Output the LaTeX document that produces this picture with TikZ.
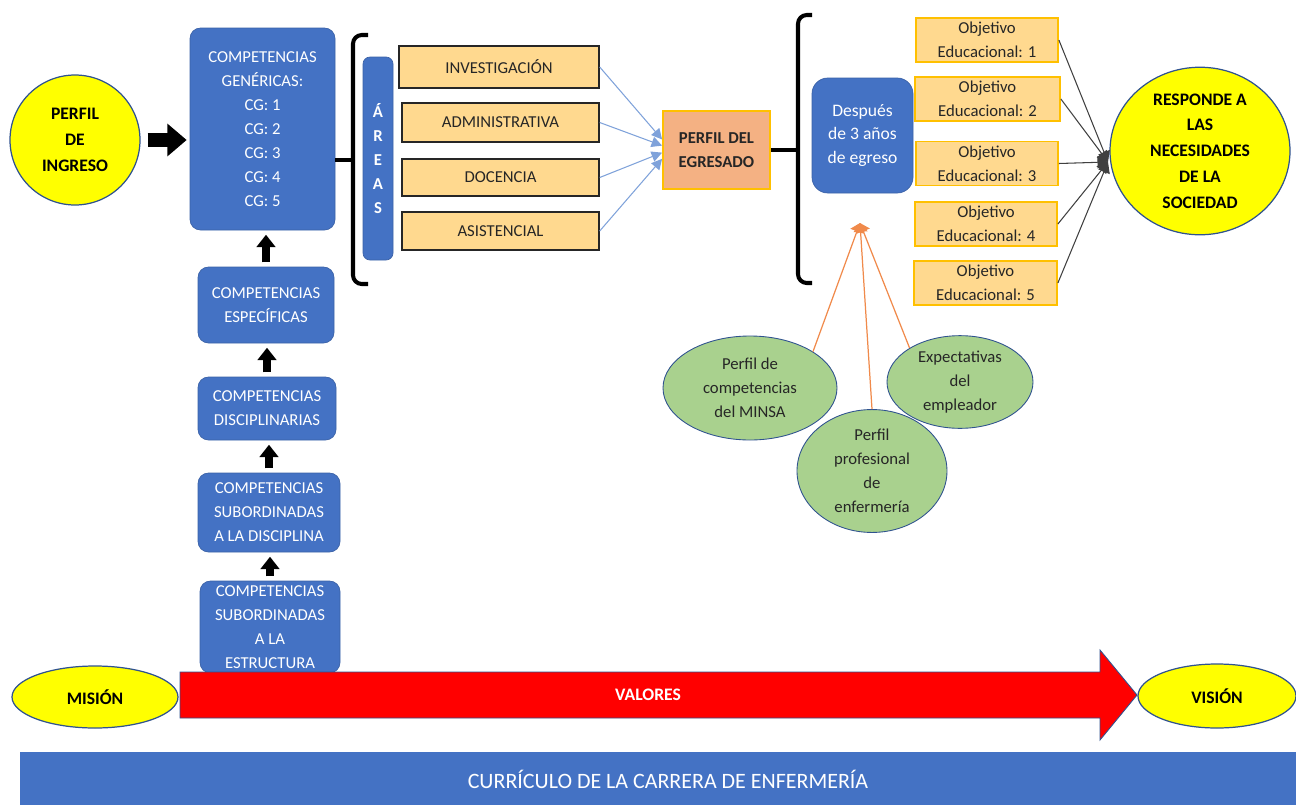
\documentclass[tikz,border=0pt]{standalone}
\usepackage{fontspec}
\setmainfont{Carlito}
\usetikzlibrary{shapes.geometric,arrows.meta}
\definecolor{ppblue}{HTML}{4472C4}
\definecolor{ppedge}{HTML}{2F528F}
\definecolor{ppyellow}{HTML}{FFFF00}
\definecolor{pplight}{HTML}{FFD98F}
\definecolor{ppgold}{HTML}{FFC000}
\definecolor{ppsalmon}{HTML}{F4B183}
\definecolor{ppgreen}{HTML}{A9D18E}
\definecolor{pplink}{HTML}{7FA2DA}
\definecolor{ppline}{HTML}{F08A4B}
\definecolor{pptext}{HTML}{262626}
\newdimen\px \px=0.02cm
\tikzset{
  txt/.style={font=\fontsize{9.5}{13.6}\selectfont, align=center, inner sep=1pt},
  comp box/.style={txt, fill=ppblue, draw=ppblue!85!black, rounded corners=6pt, text=white},
  area box/.style={txt, fill=pplight, draw=pptext, line width=0.8pt, text=pptext},
  obj box/.style={txt, fill=pplight, draw=ppgold, line width=1pt, text=pptext},
  sun/.style={txt, ellipse, fill=ppyellow, draw=ppedge, line width=0.7pt, font=\fontsize{10}{14.7}\selectfont\bfseries},
  leaf/.style={txt, ellipse, fill=ppgreen, draw=ppedge, line width=0.5pt, text=pptext},
  brace/.style={line width=2.3pt, rounded corners=5pt},
  big arrow/.style={line width=8pt, -{Triangle[length=11pt,width=18pt]}},
  up arrow/.style={line width=4.5pt, -{Triangle[length=7pt,width=10.5pt]}, shorten <=2.5pt, shorten >=2.5pt},
  blue link/.style={pplink, line width=0.6pt, -{Triangle[length=6pt,width=6pt]}},
  black link/.style={black!75, line width=0.6pt, -{Triangle[length=6pt,width=7pt]}},
  orange link/.style={ppline, line width=0.7pt, -{Triangle[length=5pt,width=8pt]}}
}
\newcommand{\compbox}[6]{\node[comp box, minimum width=#4\px, minimum height=#5\px] (#1) at (#2,#3) {#6};}
\newcommand{\areabox}[6]{\node[area box, minimum width=#4\px, minimum height=#5\px] (#1) at (#2,#3) {#6};}
\newcommand{\objbox}[4]{\node[obj box, minimum width=#3\px, minimum height=44\px] (#1) at (#2) {Objetivo\\Educacional: #4};}
\newcommand{\uparr}[2]{\draw[up arrow] (#1.north) -- (#1.north |- #2.south);}

\begin{document}
\begin{tikzpicture}[x=0.02cm, y=-0.02cm]
    \useasboundingbox (0,0) rectangle (1296,805);

    % izquierda
    \node[sun, circle, minimum size=130\px] (ingreso) at (75,140) {PERFIL\\DE\\INGRESO};
    \compbox{CG}{262.5}{129}{145}{202}{COMPETENCIAS\\GENÉRICAS:\\CG: 1\\CG: 2\\CG: 3\\CG: 4\\CG: 5}
    \draw[big arrow, shorten <=4pt, shorten >=1.7pt] (ingreso.east) -- (ingreso.east -| CG.west);

    \compbox{esp}{266}{305}{136}{76}{COMPETENCIAS\\ESPECÍFICAS}
    \compbox{disc}{267}{408.5}{138}{63}{COMPETENCIAS\\DISCIPLINARIAS}
    \compbox{subdisc}{269}{512.5}{142}{79}{COMPETENCIAS\\SUBORDINADAS\\A LA DISCIPLINA}
    \compbox{subest}{270}{627}{140}{92}{COMPETENCIAS\\SUBORDINADAS\\A LA\\ESTRUCTURA}
    \uparr{esp}{CG} \uparr{disc}{esp}
    \uparr{subdisc}{disc} \uparr{subest}{subdisc}

    % areas
    \coordinate (b1) at (353,160);
    \draw[brace] (368,35) -| (b1) |- (368,284);
    \draw[brace] (CG.east |- b1) -- (b1);
    \node[comp box, rounded corners=4pt, minimum width=30\px, minimum height=203\px, font=\fontsize{9.5}{13.6}\selectfont\bfseries] (areas) at (378,158.5) {Á\\R\\E\\A\\S};
    \areabox{inv}{499}{67}{200}{42}{INVESTIGACIÓN}
    \areabox{adm}{500.5}{122.5}{197}{39}{ADMINISTRATIVA}
    \areabox{doc}{500.5}{177.5}{197}{37}{DOCENCIA}
    \areabox{asi}{500.5}{231}{197}{38}{ASISTENCIAL}

    \node[txt, fill=ppsalmon, draw=ppgold, line width=1pt, minimum width=107\px, minimum height=78\px, font=\fontsize{9.5}{13.6}\selectfont\bfseries, text=pptext] (egresado) at (716.5,150) {PERFIL DEL\\EGRESADO};
    \draw[blue link] (inv.east) -- ([yshift=6pt]egresado.west);
    \draw[blue link] (adm.east) -- ([yshift=2.5pt]egresado.west);
    \draw[blue link] (doc.east) -- ([yshift=-1.5pt]egresado.west);
    \draw[blue link] (asi.east) -- ([yshift=-5pt]egresado.west);

    % derecha
    \coordinate (b2) at (798,150);
    \draw[brace] (812,15) -| (b2) |- (812,283);
    \draw[brace] (egresado.east |- b2) -- (b2);
    \node[comp box, rounded corners=9pt, minimum width=101\px, minimum height=115\px, font=\fontsize{10}{13.4}\selectfont] (despues) at (862.5,135.5) {Después\\de 3 años\\de egreso};

    \objbox{obj1}{987,40}{142}{1}
    \objbox{obj2}{987.5,99}{145}{2}
    \objbox{obj3}{987,163.5}{142}{3}
    \objbox{obj4}{986,224}{142}{4}
    \objbox{obj5}{985.5,283}{143}{5}

    \node[sun, minimum width=180\px, minimum height=156\px] (responde) at (1200,151) {RESPONDE A\\LAS\\NECESIDADES\\DE LA\\SOCIEDAD};
    \coordinate (hub) at (1108,162);
    \foreach \o in {obj1,obj2,obj3,obj4,obj5}
        \draw[black link] (\o.east) -- (hub);

    % perfiles de referencia
    \node[leaf, minimum width=174\px, minimum height=104\px] (minsa) at (750,388) {Perfil de\\competencias\\del MINSA};
    \node[leaf, minimum width=150\px, minimum height=108\px] (prof) at (872,471) {Perfil\\profesional\\de\\enfermería};
    \node[leaf, minimum width=146\px, minimum height=92\px] (expect) at (960,382) {Expectativas\\del\\empleador};
    \coordinate (tip) at (860,223);
    \draw[orange link] (minsa.30) -- (tip);
    \draw[orange link] (prof.north) -- (tip);
    \draw[orange link] (expect.146) -- (tip);

    % mision - vision
    \node[sun, minimum width=166\px, minimum height=62\px] (mision) at (95,697) {MISIÓN};
    \node[sun, minimum width=158\px, minimum height=64\px] (vision) at (1217,696) {VISIÓN};
    \draw[fill=red, draw=ppedge, line width=0.5pt] (180,672) -- (1100,672) -- (1100,650) -- (1137,695)
        -- (1100,740) -- (1100,718) -- (180,718) -- cycle;
    \node[txt, text=white, font=\fontsize{10}{12}\selectfont\bfseries] (valores) at (648,695) {VALORES};

    \fill[ppblue] (20,752) rectangle (1296,805);
    \node[txt, text=white, font=\fontsize{12.5}{15}\selectfont] (curriculo) at (668,779) {CURRÍCULO DE LA CARRERA DE ENFERMERÍA};
\end{tikzpicture}
\end{document}
